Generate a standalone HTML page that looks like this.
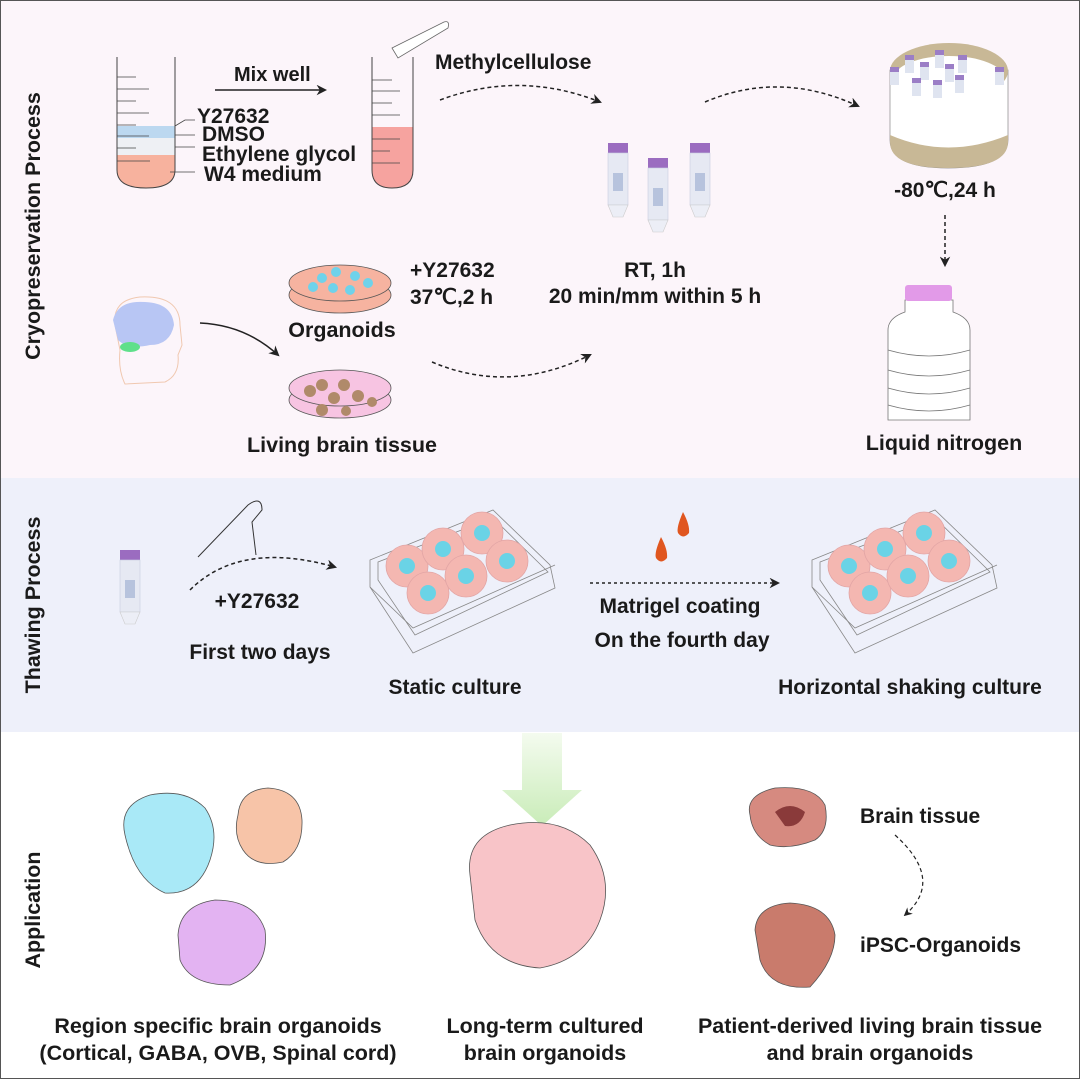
<!DOCTYPE html>
<html><head><meta charset="utf-8"><style>
html,body{margin:0;padding:0;background:#fff}
svg{display:block}
text{font-family:"Liberation Sans",sans-serif;font-weight:bold;fill:#1a1a1a}
</style></head><body>
<svg width="1080" height="1079" viewBox="0 0 1080 1079" xmlns="http://www.w3.org/2000/svg">
<defs>
<marker id="ah" viewBox="0 0 10 10" refX="8" refY="5" markerWidth="7" markerHeight="7" orient="auto"><path d="M0,0 L10,5 L0,10 L3,5z" fill="#222"/></marker>
<linearGradient id="gr" x1="0" y1="0" x2="0" y2="1"><stop offset="0" stop-color="#f4fbef"/><stop offset="1" stop-color="#c9ecb8"/></linearGradient>
<g id="vial"><rect x="0" y="0" width="20" height="10" fill="#9b6cc0"/><rect x="0" y="10" width="20" height="52" fill="#e6e9f3" stroke="#c9cde0" stroke-width="0.6"/><rect x="5" y="30" width="10" height="18" fill="#b7c3dd"/><path d="M0,62 L5,74 L15,74 L20,62z" fill="#eceef6" stroke="#ccc" stroke-width="0.6"/></g>
<g id="mini"><rect x="0" y="0" width="9" height="5" fill="#9b7ec6"/><rect x="0" y="5" width="9" height="13" fill="#dfe4f0"/></g>
<g id="plate" fill="none" stroke="#888" stroke-width="0.8">
<path d="M0,50 L123,0 L180,55 L185,78 L43,143 L0,77z"/><path d="M8,52 L123,8 L172,56 L178,62 L45,125 L8,70z"/><path d="M0,77 L43,118 L185,55"/>
<g stroke="#e2a5a5" fill="#f4b7b1"><circle cx="37" cy="56" r="21"/><circle cx="73" cy="39" r="21"/><circle cx="112" cy="23" r="21"/><circle cx="58" cy="83" r="21"/><circle cx="96" cy="66" r="21"/><circle cx="137" cy="51" r="21"/></g>
<g fill="#6ad3e6" stroke="none"><circle cx="37" cy="56" r="8"/><circle cx="73" cy="39" r="8"/><circle cx="112" cy="23" r="8"/><circle cx="58" cy="83" r="8"/><circle cx="96" cy="66" r="8"/><circle cx="137" cy="51" r="8"/></g>
</g>
</defs>
<rect x="0" y="0" width="1080" height="478" fill="#fcf5fa"/>
<rect x="0" y="478" width="1080" height="254" fill="#eef0fa"/>
<rect x="0.5" y="0.5" width="1079" height="1078" fill="none" stroke="#555" stroke-width="1"/>

<text transform="translate(40,226) rotate(-90)" font-size="21.5" text-anchor="middle">Cryopreservation Process</text>
<text transform="translate(40,605) rotate(-90)" font-size="21.5" text-anchor="middle">Thawing Process</text>
<text transform="translate(40,910) rotate(-90)" font-size="21.5" text-anchor="middle">Application</text>

<!-- tube 1 -->
<path d="M117,155 L175,155 L175,170 Q175,188 146,188 Q117,188 117,170z" fill="#f7b29e"/>
<rect x="117" y="126" width="58" height="12" fill="#bcd8f0"/>
<rect x="117" y="138" width="58" height="17" fill="#eef0f4"/>
<path d="M117,57 L117,170 Q117,188 146,188 Q175,188 175,170 L175,57" fill="none" stroke="#444" stroke-width="1"/>
<g stroke="#444" stroke-width="0.8"><line x1="117" y1="77" x2="136" y2="77"/><line x1="117" y1="89" x2="149" y2="89"/><line x1="117" y1="101" x2="136" y2="101"/><line x1="117" y1="113" x2="149" y2="113"/><line x1="117" y1="125" x2="136" y2="125"/><line x1="117" y1="136" x2="149" y2="136"/><line x1="117" y1="148" x2="136" y2="148"/><line x1="117" y1="161" x2="150" y2="161"/>
<polyline points="175,126 185,120 195,120" fill="none"/><line x1="175" y1="135" x2="195" y2="135"/><line x1="175" y1="147" x2="195" y2="147"/><line x1="170" y1="172" x2="195" y2="172"/></g>
<text x="197" y="123" font-size="21">Y27632</text>
<text x="202" y="141" font-size="21">DMSO</text>
<text x="202" y="161" font-size="21">Ethylene glycol</text>
<text x="204" y="181" font-size="21">W4 medium</text>
<text x="234" y="81" font-size="20">Mix well</text>
<line x1="215" y1="90" x2="325" y2="90" stroke="#222" stroke-width="1.5" marker-end="url(#ah)"/>

<!-- tube 2 -->
<path d="M372,127 L413,127 L413,170 Q413,188 392,188 Q372,188 372,170z" fill="#f6a39f"/>
<path d="M372,57 L372,170 Q372,188 392,188 Q413,188 413,170 L413,57" fill="none" stroke="#444" stroke-width="1"/>
<g stroke="#444" stroke-width="0.8"><line x1="372" y1="80" x2="392" y2="80"/><line x1="372" y1="91" x2="400" y2="91"/><line x1="372" y1="103" x2="392" y2="103"/><line x1="372" y1="115" x2="400" y2="115"/><line x1="372" y1="139" x2="400" y2="139"/><line x1="372" y1="151" x2="390" y2="151"/><line x1="372" y1="163" x2="400" y2="163"/></g>
<path d="M392,48 L444,22 Q450,20 448,28 L398,58z" fill="#fff" stroke="#666" stroke-width="0.8"/>
<text x="435" y="69" font-size="21">Methylcellulose</text>
<path d="M440,100 Q520,70 600,102" fill="none" stroke="#222" stroke-width="1.5" stroke-dasharray="4,3" marker-end="url(#ah)"/>
<use href="#vial" x="608" y="143"/><use href="#vial" x="648" y="158"/><use href="#vial" x="690" y="143"/>
<path d="M705,102 Q780,70 858,106" fill="none" stroke="#222" stroke-width="1.5" stroke-dasharray="4,3" marker-end="url(#ah)"/>
<text x="655" y="277" font-size="21" text-anchor="middle">RT, 1h</text>
<text x="655" y="303" font-size="21" text-anchor="middle">20 min/mm within 5 h</text>

<!-- freezer -->
<path d="M890,70 L890,140 Q890,168 948,168 Q1008,168 1008,140 L1008,70z" fill="#fff" stroke="#888" stroke-width="0.7"/>
<path d="M890,135 Q948,160 1008,135 L1008,142 Q1008,168 948,168 Q890,168 890,142z" fill="#c8b896"/>
<ellipse cx="949" cy="71" rx="59" ry="28" fill="#c8b896"/>
<ellipse cx="949" cy="78" rx="55" ry="22" fill="#fff"/>
<use href="#mini" x="935" y="50"/><use href="#mini" x="905" y="55"/><use href="#mini" x="958" y="55"/><use href="#mini" x="920" y="62"/><use href="#mini" x="945" y="64"/><use href="#mini" x="890" y="67"/><use href="#mini" x="995" y="67"/><use href="#mini" x="912" y="78"/><use href="#mini" x="933" y="80"/><use href="#mini" x="955" y="75"/>
<text x="945" y="197" font-size="21" text-anchor="middle">-80℃,24 h</text>
<line x1="945" y1="215" x2="945" y2="265" stroke="#222" stroke-width="1.5" stroke-dasharray="4,3" marker-end="url(#ah)"/>
<!-- LN -->
<path d="M905,300 L905,312 Q888,318 888,330 L888,420 L970,420 L970,330 Q970,318 953,312 L953,300z" fill="#fff" stroke="#777" stroke-width="0.8"/>
<rect x="905" y="285" width="47" height="16" rx="3" fill="#e29ae8"/>
<g fill="none" stroke="#777" stroke-width="0.8"><path d="M888,350 Q929,362 970,350"/><path d="M888,370 Q929,382 970,370"/><path d="M888,388 Q929,400 970,388"/><path d="M888,405 Q929,417 970,405"/></g>
<text x="944" y="450" font-size="21.5" text-anchor="middle">Liquid nitrogen</text>

<!-- head -->
<path d="M115,325 Q112,300 140,297 Q180,295 180,325 L182,345 L178,355 Q180,375 165,382 L125,384 Q118,370 120,350z" fill="none" stroke="#f0c8b0" stroke-width="1"/>
<path d="M113,320 Q118,300 145,302 Q172,303 174,325 Q170,345 150,345 Q128,350 118,340z" fill="#b8c6f4"/>
<ellipse cx="130" cy="347" rx="10" ry="5" fill="#5fe08a"/>
<path d="M200,323 Q245,325 278,355" fill="none" stroke="#222" stroke-width="1.5" marker-end="url(#ah)"/>

<!-- dishes -->
<ellipse cx="340" cy="295" rx="51" ry="18" fill="#f6b3a0" stroke="#555" stroke-width="0.8"/>
<ellipse cx="340" cy="283" rx="51" ry="18" fill="#f6b3a0" stroke="#555" stroke-width="0.8"/>
<g fill="#6fd2ea"><circle cx="322" cy="278" r="5"/><circle cx="336" cy="272" r="5"/><circle cx="355" cy="276" r="5"/><circle cx="313" cy="287" r="5"/><circle cx="333" cy="288" r="5"/><circle cx="350" cy="290" r="5"/><circle cx="368" cy="283" r="5"/></g>
<text x="342" y="337" font-size="21.5" text-anchor="middle">Organoids</text>
<text x="410" y="277" font-size="21">+Y27632</text>
<text x="410" y="304" font-size="21">37℃,2 h</text>
<ellipse cx="340" cy="400" rx="51" ry="18" fill="#f7c4e2" stroke="#555" stroke-width="0.8"/>
<ellipse cx="340" cy="388" rx="51" ry="18" fill="#f7c4e2" stroke="#555" stroke-width="0.8"/>
<g fill="#b08a6a"><circle cx="310" cy="391" r="6"/><circle cx="322" cy="385" r="6"/><circle cx="344" cy="385" r="6"/><circle cx="334" cy="398" r="6"/><circle cx="358" cy="396" r="6"/><circle cx="372" cy="402" r="5"/><circle cx="322" cy="410" r="6"/><circle cx="346" cy="411" r="5"/></g>
<text x="342" y="452" font-size="21.5" text-anchor="middle">Living brain tissue</text>
<path d="M432,362 Q510,395 590,355" fill="none" stroke="#222" stroke-width="1.5" stroke-dasharray="4,3" marker-end="url(#ah)"/>

<!-- thawing -->
<use href="#vial" x="120" y="550"/>
<path d="M198,557 L248,505 Q262,495 262,510 L252,522 L256,555" fill="none" stroke="#333" stroke-width="1"/>
<path d="M190,590 Q240,540 335,567" fill="none" stroke="#222" stroke-width="1.5" stroke-dasharray="4,3" marker-end="url(#ah)"/>
<text x="257" y="608" font-size="21" text-anchor="middle">+Y27632</text>
<text x="260" y="659" font-size="21" text-anchor="middle">First two days</text>
<use href="#plate" x="370" y="510"/>
<text x="455" y="694" font-size="21" text-anchor="middle">Static culture</text>
<path d="M683,512 Q676,528 678,533 Q683,540 689,533 Q690,525 683,512z" fill="#e0561f"/>
<path d="M661,537 Q654,553 656,558 Q661,565 667,558 Q668,550 661,537z" fill="#e0561f"/>
<line x1="590" y1="583" x2="778" y2="583" stroke="#222" stroke-width="1.5" stroke-dasharray="3,3" marker-end="url(#ah)"/>
<text x="680" y="613" font-size="21" text-anchor="middle">Matrigel coating</text>
<text x="682" y="647" font-size="21" text-anchor="middle">On the fourth day</text>
<use href="#plate" x="812" y="510"/>
<text x="910" y="694" font-size="21" text-anchor="middle">Horizontal shaking culture</text>

<!-- green arrow -->
<path d="M522,733 L562,733 L562,790 L582,790 L542,826 L502,790 L522,790z" fill="url(#gr)"/>

<!-- organoids -->
<path d="M125,835 Q118,805 150,795 Q185,788 205,808 Q220,830 210,860 Q198,895 165,893 Q135,880 125,835z" fill="#a9e9f7" stroke="#555" stroke-width="0.8"/>
<path d="M238,815 Q240,790 268,788 Q300,790 302,820 Q303,850 283,862 Q255,868 243,850 Q233,835 238,815z" fill="#f7c4a8" stroke="#555" stroke-width="0.8"/>
<path d="M178,935 Q180,905 215,900 Q255,900 265,930 Q270,970 230,985 Q190,985 180,960z" fill="#e3b3f2" stroke="#555" stroke-width="0.8"/>
<path d="M470,875 Q465,835 510,825 Q560,815 590,845 Q615,880 600,920 Q585,960 540,968 Q490,965 475,920z" fill="#f8c4c8" stroke="#555" stroke-width="0.8"/>
<path d="M750,815 Q745,795 775,788 Q815,785 825,805 Q830,830 815,840 Q790,850 770,845 Q752,835 750,815z" fill="#d68a80" stroke="#555" stroke-width="0.8"/>
<path d="M775,812 Q790,800 805,812 Q800,828 785,826z" fill="#8a3a3a"/>
<path d="M755,930 Q757,905 790,903 Q830,905 835,935 Q835,960 810,987 Q770,990 760,960z" fill="#c97b6c" stroke="#555" stroke-width="0.8"/>
<text x="860" y="823" font-size="21">Brain tissue</text>
<text x="860" y="952" font-size="21">iPSC-Organoids</text>
<path d="M895,835 Q945,880 905,915" fill="none" stroke="#222" stroke-width="1.2" stroke-dasharray="4,3" marker-end="url(#ah)"/>

<text x="218" y="1033" font-size="21.5" text-anchor="middle">Region specific brain organoids</text>
<text x="218" y="1060" font-size="21.5" text-anchor="middle">(Cortical, GABA, OVB, Spinal cord)</text>
<text x="545" y="1033" font-size="21.5" text-anchor="middle">Long-term cultured</text>
<text x="545" y="1060" font-size="21.5" text-anchor="middle">brain organoids</text>
<text x="870" y="1033" font-size="21.5" text-anchor="middle">Patient-derived living brain tissue</text>
<text x="870" y="1060" font-size="21.5" text-anchor="middle">and brain organoids</text>
</svg>
</body></html>
